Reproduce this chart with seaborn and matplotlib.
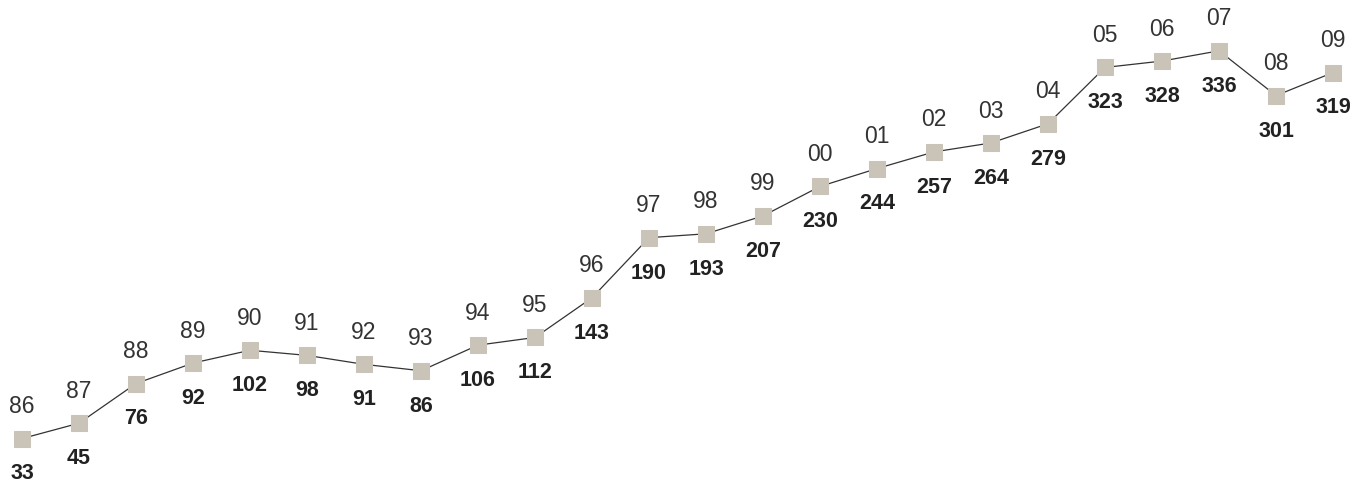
import numpy as np
import pandas as pd
import seaborn as sns
import matplotlib.pyplot as plt

years = ['86', '87', '88', '89', '90', '91', '92', '93', '94', '95', '96', '97',
         '98', '99', '00', '01', '02', '03', '04', '05', '06', '07', '08', '09']
values = [33, 45, 76, 92, 102, 98, 91, 86, 106, 112, 143, 190,
          193, 207, 230, 244, 257, 264, 279, 323, 328, 336, 301, 319]

data = pd.DataFrame({'idx': np.arange(len(years)), 'value': values})

sns.set_style("white")
plt.rcParams['font.family'] = ['Liberation Sans', 'DejaVu Sans']

fig = plt.figure(figsize=(13.54, 4.84), dpi=100)
ax = fig.add_axes([0, 0, 1, 1])

sns.lineplot(data=data, x='idx', y='value', ax=ax, color='#333333', linewidth=0.9,
             marker='s', markersize=12, markerfacecolor='#c9c3b8',
             markeredgecolor='#c9c3b8')

# year above each point, value in bold below
for i, (yr, v) in enumerate(zip(years, values)):
    ax.annotate(yr, (i, v), xytext=(0, 23), textcoords='offset points',
                ha='center', va='center', fontsize=16.5, color='#333333')
    ax.annotate(str(v), (i, v), xytext=(0, -25.5), textcoords='offset points',
                ha='center', va='center', fontsize=15.5, fontweight='bold', color='#222222')

ax.set_xlim(-0.386, 23.368)
ax.set_ylim(-2.5, 375.7)
ax.axis('off')

fig.savefig('out.png', dpi=100)
